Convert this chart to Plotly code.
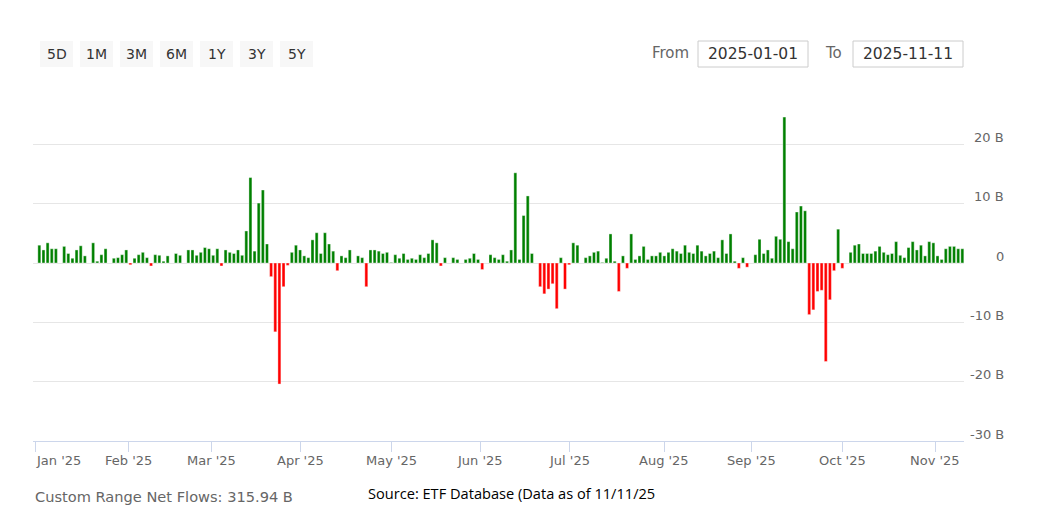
import numpy as np
import pandas as pd
import plotly.graph_objects as go

# Daily net flows (B USD), one value per weekday from 2025-01-02 to 2025-11-11.
# None = market holiday / no flow reported.
jan = [3.0, 2.2, 3.4, 2.4, 2.4, None, 2.8, 1.6, 0.8, 2.2, 2.9, 1.2, None, 3.4, 0.3, 1.4, 2.4, None, 0.8, 0.9, 1.4, 2.2]
feb = [-0.3, 0.8, 1.4, 1.8, 0.9, -0.5, 1.4, 1.3, 0.3, 1.2, None, 1.6, 1.3, None, 2.2, 2.2, 1.3, 1.8, 2.6, 2.4]
mar = [1.3, 2.4, -0.5, 2.2, 1.8, 1.6, 2.2, 1.3, 5.4, 14.4, 2.0, 10.1, 12.3, 3.2, -2.3, -11.6, -20.4, -4.0, -0.4, 1.8, 3.0]
apr = [2.2, 1.2, 0.9, 3.9, 5.1, 1.6, 5.1, 3.2, 2.0, -1.3, 1.2, 0.9, 2.2, None, 1.2, 0.9, -4.0, 2.2, 2.2, 2.0, 1.6, 1.8]
may = [0.1, 1.4, 0.8, 1.6, 0.6, 0.8, 0.6, 1.4, 0.9, 1.6, 3.9, 3.4, -0.5, 0.9, None, 0.9, 0.6, None, 0.6, 0.8, 1.6, 0.6]
jun = [-1.1, None, 1.4, 0.9, 0.6, 1.4, 0.3, 2.2, 15.2, 0.6, 8.0, 11.3, 1.6, None, -4.0, -5.2, -4.4, -3.5, -7.7, 0.9, -4.4]
jul = [-0.3, 3.4, 3.0, None, 0.9, 1.2, 1.8, 2.0, 0.1, 0.8, 4.9, 0.3, -4.8, 1.2, -0.9, 4.9, 0.6, 1.2, 2.8, 0.6, 1.2, 1.2, 1.8]
aug = [1.2, 1.8, 2.4, 2.0, 1.6, 3.0, 1.8, 1.6, 3.0, 2.0, 1.2, 1.6, 2.0, 0.9, 3.9, 1.6, 4.9, 0.3, -0.9, 0.9, -0.7]
sep = [None, 1.4, 4.0, 1.6, 2.2, 0.8, 4.5, 4.0, 24.6, 3.6, 2.4, 8.6, 9.6, 8.8, -8.7, -7.9, -4.8, -4.6, -16.6, -6.2, -1.3, 5.7]
oct_ = [-0.9, None, 1.8, 3.0, 3.2, 1.6, 1.6, 1.6, 2.0, 2.8, 1.8, 1.4, 1.6, 3.6, 1.3, 0.9, 2.6, 3.6, 2.2, 3.0, 1.2, 3.6, 3.4]
nov = [1.2, 0.6, 2.4, 2.8, 2.8, 2.4, 2.4]

month_labels = ["Jan '25", "Feb '25", "Mar '25", "Apr '25", "May '25", "Jun '25",
                "Jul '25", "Aug '25", "Sep '25", "Oct '25", "Nov '25"]
month_starts = ["2025-01-01", "2025-02-01", "2025-03-01", "2025-04-01", "2025-05-01", "2025-06-01",
                "2025-07-01", "2025-08-01", "2025-09-01", "2025-10-01", "2025-11-01"]
y_ticks = [-30, -20, -10, 0, 10, 20, 30]
y_tick_labels = ["-30 B", "-20 B", "-10 B", "0", "10 B", "20 B", ""]
range_buttons = ["5D", "1M", "3M", "6M", "1Y", "3Y", "5Y"]
date_from = "2025-01-01"
date_to = "2025-11-11"
total_text = "Custom Range Net Flows: 315.94 B"
source_text = "Source: ETF Database (Data as of 11/11/25"

values = jan + feb + mar + apr + may + jun + jul + aug + sep + oct_ + nov
dates = pd.bdate_range("2025-01-02", "2025-11-11")
start = "2025-01-02"
# ordinal (trading-day) positions
pos = [int(np.busday_count(start, d.strftime("%Y-%m-%d"))) for d in dates]


def ordinal_pos(day):
    p = float(np.busday_count(start, day))
    if not np.is_busday(day):
        p -= 0.5
    return p


tick_pos = [ordinal_pos(d) for d in month_starts]

colors = ["#008000" if (v is not None and v >= 0) else "#ff0000" for v in values]

fig = go.Figure()
fig.add_trace(go.Bar(
    x=pos, y=values,
    marker=dict(color=colors, line=dict(color="rgba(255,255,255,0.55)", width=0.7)),
    customdata=[d.strftime("%Y-%m-%d") for d in dates],
    hovertemplate="%{customdata}: %{y} B<extra></extra>",
))

W, H = 1050, 525
L, R, T, B = 33, 86, 85, 84
PW, PH = W - L - R, H - T - B


def px(xp):
    return (xp - L) / PW


def py(yp):
    return (H - B - yp) / PH


font_family = "DejaVu Sans, Verdana, sans-serif"
src_family = "Open Sans, Arial, sans-serif"
annotations = []
shapes = []

# x axis labels
for i, (p, lab) in enumerate(zip(tick_pos, month_labels)):
    annotations.append(dict(
        x=p, y=0, xref="x", yref="paper", yshift=-19, text=lab, showarrow=False,
        xanchor="left" if i == 0 else "center", yanchor="middle",
        xshift=-1 if i == 0 else 0,
        font=dict(family=font_family, size=13, color="#666666")))

# y axis labels (right side, right aligned, above gridline)
for v, lab in zip(y_ticks, y_tick_labels):
    if lab:
        annotations.append(dict(
            x=px(1006), y=v, xref="paper", yref="y", yshift=7, text=lab, showarrow=False,
            xanchor="right", yanchor="middle",
            font=dict(family=font_family, size=13, color="#666666")))

# range selector buttons
for i, b in enumerate(range_buttons):
    x0 = 40 + 40 * i
    shapes.append(dict(type="rect", xref="paper", yref="paper",
                       x0=px(x0), x1=px(x0 + 33), y0=py(67), y1=py(41),
                       fillcolor="#f7f7f7", line=dict(width=0), layer="below"))
    annotations.append(dict(x=px(x0 + 16.5), y=py(54), xref="paper", yref="paper", text=b,
                            showarrow=False, xanchor="center", yanchor="middle",
                            font=dict(family=font_family, size=14, color="#333333")))

# From / To inputs
annotations.append(dict(x=px(670), y=py(53), xref="paper", yref="paper", text="From",
                        showarrow=False, xanchor="center", yanchor="middle",
                        font=dict(family=font_family, size=15, color="#666666")))
annotations.append(dict(x=px(833), y=py(53), xref="paper", yref="paper", text="To",
                        showarrow=False, xanchor="center", yanchor="middle",
                        font=dict(family=font_family, size=15, color="#666666")))
for x0, x1, txt in [(698, 808, date_from), (853, 963, date_to)]:
    shapes.append(dict(type="rect", xref="paper", yref="paper",
                       x0=px(x0), x1=px(x1), y0=py(67), y1=py(41),
                       fillcolor="white", line=dict(color="#cccccc", width=1)))
    annotations.append(dict(x=px((x0 + x1) / 2), y=py(54), xref="paper", yref="paper", text=txt,
                            showarrow=False, xanchor="center", yanchor="middle",
                            font=dict(family=font_family, size=15.5, color="#333333")))

# footer
annotations.append(dict(x=px(33), y=py(496), xref="paper", yref="paper", text=total_text,
                        showarrow=False, xanchor="left", yanchor="middle",
                        font=dict(family=font_family, size=14.6, color="#666666")))
annotations.append(dict(x=px(366), y=py(493), xref="paper", yref="paper", text=source_text,
                        showarrow=False, xanchor="left", yanchor="middle",
                        font=dict(family=src_family, size=14.6, color="#000000")))

fig.update_layout(
    width=W, height=H,
    margin=dict(l=L, r=R, t=T, b=B, pad=0),
    paper_bgcolor="white", plot_bgcolor="white",
    showlegend=False,
    bargap=0.28,
    font=dict(family=font_family),
    xaxis=dict(range=[-1.53, 223.4], showgrid=False, zeroline=False,
               showline=True, linecolor="#ccd6eb", linewidth=1,
               ticks="outside", ticklen=10, tickcolor="#ccd6eb", tickwidth=1,
               tickvals=tick_pos, showticklabels=False, fixedrange=True),
    yaxis=dict(range=[-30, 30], tickvals=y_ticks, showticklabels=False,
               showgrid=True, gridcolor="#e6e6e6", gridwidth=1,
               zeroline=False, showline=False, fixedrange=True),
    annotations=annotations,
    shapes=shapes,
)

fig.write_html("out.html")
